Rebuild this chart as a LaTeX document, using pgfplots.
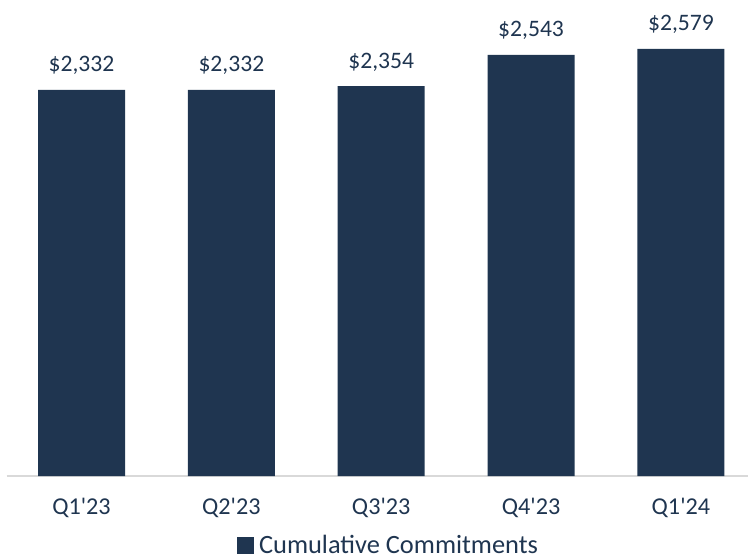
\documentclass[border=0pt]{standalone}
\usepackage{fontspec}
\setmainfont{Carlito}
\usepackage{pgfplots}
\pgfplotsset{compat=1.18}
\definecolor{navy}{RGB}{31,53,80}
\definecolor{base}{RGB}{217,217,217}
\begin{document}
\fontsize{11.9}{14.3}\selectfont
\begin{tikzpicture}
\useasboundingbox (0,0) rectangle (374pt,278.5pt);
\begin{axis}[
  at={(40.75pt,40.5pt)}, anchor=origin,
  x=74.925pt, y=0.0828pt,
  xmin=-0.5, xmax=4.45, ymin=0, ymax=2800,
  hide y axis,
  axis x line*=bottom,
  x axis line style={draw=base, line width=0.75pt, -},
  xtick=data,
  xticklabels={Q1\textquotesingle23,Q2\textquotesingle23,Q3\textquotesingle23,Q4\textquotesingle23,Q1\textquotesingle24},
  major tick length=0pt,
  xticklabel style={text=navy, font=\fontsize{12.1}{14.5}\selectfont, yshift=-7pt},
  ybar, bar width=43.5pt,
  nodes near coords,
  point meta=explicit symbolic,
  every node near coord/.append style={text=navy, font=\fontsize{11.8}{14.3}\selectfont, anchor=south, yshift=3.3pt},
  legend style={at={(0.3105,-0.1505)}, anchor=west, draw=none, fill=none, text=navy, font=\fontsize{13.2}{15.8}\selectfont, inner sep=0pt,
    nodes={inner sep=1.2pt}},
  legend image code/.code={\fill[navy] (0pt,-4.15pt) rectangle (8.3pt,4.15pt); \path (9.7pt,0pt);},
  clip=false,
]
\addplot[fill=navy, draw=none] coordinates {
  (0,2332) [\$2,332]
  (1,2332) [\$2,332]
  (2,2354) [\$2,354]
  (3,2543) [\$2,543]
  (4,2579) [\$2,579]
};
\addlegendentry{Cumulative Commitments}
\end{axis}
\end{tikzpicture}
\end{document}
